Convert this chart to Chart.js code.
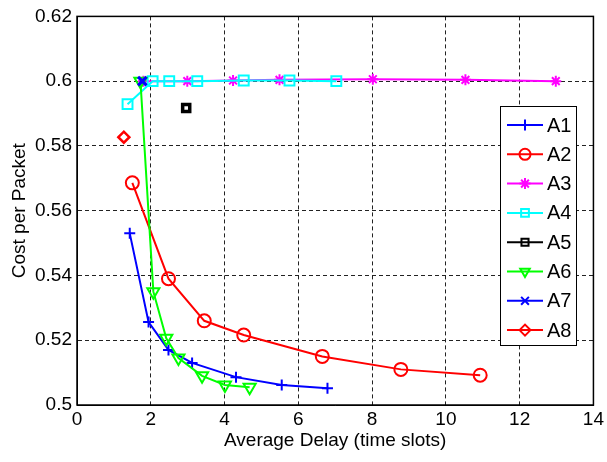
<!DOCTYPE html>
<html>
<head>
<meta charset="utf-8">
<script src="https://cdn.jsdelivr.net/npm/chart.js@4.4.0/dist/chart.umd.min.js"></script>
<style>
  html, body { margin: 0; padding: 0; background: #fff; }
  #box { width: 607px; height: 462px; }
</style>
</head>
<body>
<div id="box"><canvas id="grafico"></canvas></div>
<script>
// valores
const a1X = [1.43, 1.94, 2.48, 3.12, 4.31, 5.55, 6.79];
const a1Y = [0.553, 0.5256, 0.517, 0.513, 0.5086, 0.5062, 0.5052];
const a2X = [1.50, 2.48, 3.45, 4.52, 6.65, 8.78, 10.93];
const a2Y = [0.5686, 0.539, 0.526, 0.5216, 0.515, 0.511, 0.5092];
const a3X = [1.80, 2.99, 4.23, 5.49, 8.02, 10.53, 12.98];
const a3Y = [0.6, 0.6, 0.6002, 0.6004, 0.6006, 0.6004, 0.6];
const a4X = [1.37, 2.05, 2.50, 3.26, 4.52, 5.76, 7.03];
const a4Y = [0.5929, 0.6, 0.6, 0.6, 0.6002, 0.6002, 0.6];
const a5X = [2.96];
const a5Y = [0.5917];
const a6X = [1.72, 2.07, 2.42, 2.75, 3.39, 4.01, 4.68];
const a6Y = [0.6, 0.535, 0.5206, 0.5145, 0.509, 0.5062, 0.5055];
const a7X = [1.77];
const a7Y = [0.6];
const a8X = [1.27];
const a8Y = [0.5827];

const xTicks = [0, 2, 4, 6, 8, 10, 12, 14];
const yTicks = [0.5, 0.52, 0.54, 0.56, 0.58, 0.6, 0.62];

function pts(xs, ys) {
  return xs.map((x, i) => ({ x: x, y: ys[i] }));
}

function serie(nome, xs, ys, cor, estilo, raio, rot, esp) {
  return {
    label: nome,
    data: pts(xs, ys),
    borderColor: cor,
    backgroundColor: 'rgba(0,0,0,0)',
    borderWidth: 2,
    pointStyle: estilo,
    pointRadius: raio,
    pointRotation: rot || 0,
    pointBorderColor: cor,
    pointBackgroundColor: 'rgba(0,0,0,0)',
    pointBorderWidth: esp || 2,
    showLine: true,
    tension: 0
  };
}

const series = [
  serie('A1', a1X, a1Y, '#0000ff', 'cross', 5.5),
  serie('A2', a2X, a2Y, '#ff0000', 'circle', 6.5),
  serie('A3', a3X, a3Y, '#ff00ff', 'star', 5.5),
  serie('A4', a4X, a4Y, '#00ffff', 'rect', 7),
  serie('A5', a5X, a5Y, '#000000', 'rect', 5, 0, 3.5),
  serie('A6', a6X, a6Y, '#00ff00', 'triangle', 7, 180),
  serie('A7', a7X, a7Y, '#0000ff', 'crossRot', 6, 0, 3),
  serie('A8', a8X, a8Y, '#ff0000', 'rectRot', 5.5, 0, 2.5)
];
// as ultimas series ficam por cima, como no original
series.forEach((s, i) => { s.order = series.length - i; });

const fonte = '"Liberation Sans", Arial, sans-serif';

// legenda desenhada dentro da area do grafico, como no original
const legendaInterna = {
  id: 'legendaInterna',
  afterDraw(chart) {
    const ctx = chart.ctx;
    const x0 = 500, y0 = 106, w = 76, h = 239;
    ctx.save();
    ctx.fillStyle = '#fff';
    ctx.fillRect(x0, y0, w, h);
    ctx.strokeStyle = '#000';
    ctx.lineWidth = 1;
    ctx.strokeRect(x0 + 0.5, y0 + 0.5, w, h);
    chart.data.datasets.forEach((ds, i) => {
      const y = 125 + i * 29.3;
      ctx.strokeStyle = ds.borderColor;
      ctx.lineWidth = 2;
      ctx.beginPath();
      ctx.moveTo(507, y);
      ctx.lineTo(543, y);
      ctx.stroke();
      ctx.fillStyle = 'rgba(0,0,0,0)';
      ctx.lineWidth = 2;
      Chart.helpers.drawPoint(ctx, {
        pointStyle: ds.pointStyle,
        radius: Math.min(ds.pointRadius, 5.5),
        rotation: ds.pointRotation,
        borderWidth: 2
      }, 525, y);
      ctx.fillStyle = '#000';
      ctx.font = '20px ' + fonte;
      ctx.textBaseline = 'middle';
      ctx.fillText(ds.label, 547, y + 1);
    });
    ctx.restore();
  }
};

// moldura preta em volta da area do grafico
const moldura = {
  id: 'moldura',
  afterDatasetsDraw(chart) {
    const a = chart.chartArea;
    const ctx = chart.ctx;
    ctx.save();
    ctx.strokeStyle = '#000';
    ctx.lineWidth = 1.5;
    ctx.strokeRect(a.left, a.top, a.right - a.left, a.bottom - a.top);
    ctx.restore();
  }
};

const grade = {
  display: true,
  color: '#222',
  lineWidth: 1,
  drawTicks: false
};

new Chart(document.getElementById('grafico').getContext('2d'), {
  type: 'scatter',
  data: { datasets: series },
  options: {
    responsive: true,
    maintainAspectRatio: false,
    animation: false,
    layout: { padding: { top: 16, right: 10, left: 0, bottom: 0 } },
    plugins: {
      legend: { display: false },
      tooltip: { enabled: false }
    },
    scales: {
      x: {
        type: 'linear',
        min: 0,
        max: 14,
        afterBuildTicks: (s) => { s.ticks = xTicks.map(v => ({ value: v })); },
        grid: grade,
        border: { display: true, color: '#000', dash: [4, 3] },
        ticks: { color: '#000', font: { family: fonte, size: 19 }, padding: 3, maxRotation: 0 },
        title: { display: true, text: 'Average Delay (time slots)', color: '#000', font: { family: fonte, size: 19 }, padding: { top: 0, bottom: 10 } },
        afterFit: (s) => { s.height = 57; }
      },
      y: {
        type: 'linear',
        min: 0.5,
        max: 0.62,
        afterBuildTicks: (s) => { s.ticks = yTicks.map(v => ({ value: v })); },
        grid: grade,
        border: { display: true, color: '#000', dash: [4, 3] },
        ticks: {
          color: '#000',
          font: { family: fonte, size: 19 },
          padding: 5,
          callback: (v) => String(Math.round(v * 100) / 100)
        },
        title: { display: true, text: 'Cost per Packet', color: '#000', font: { family: fonte, size: 19 }, padding: { top: 8, bottom: 2 } },
        afterFit: (s) => { s.width = 77; }
      }
    }
  },
  plugins: [moldura, legendaInterna]
});
</script>
</body>
</html>
